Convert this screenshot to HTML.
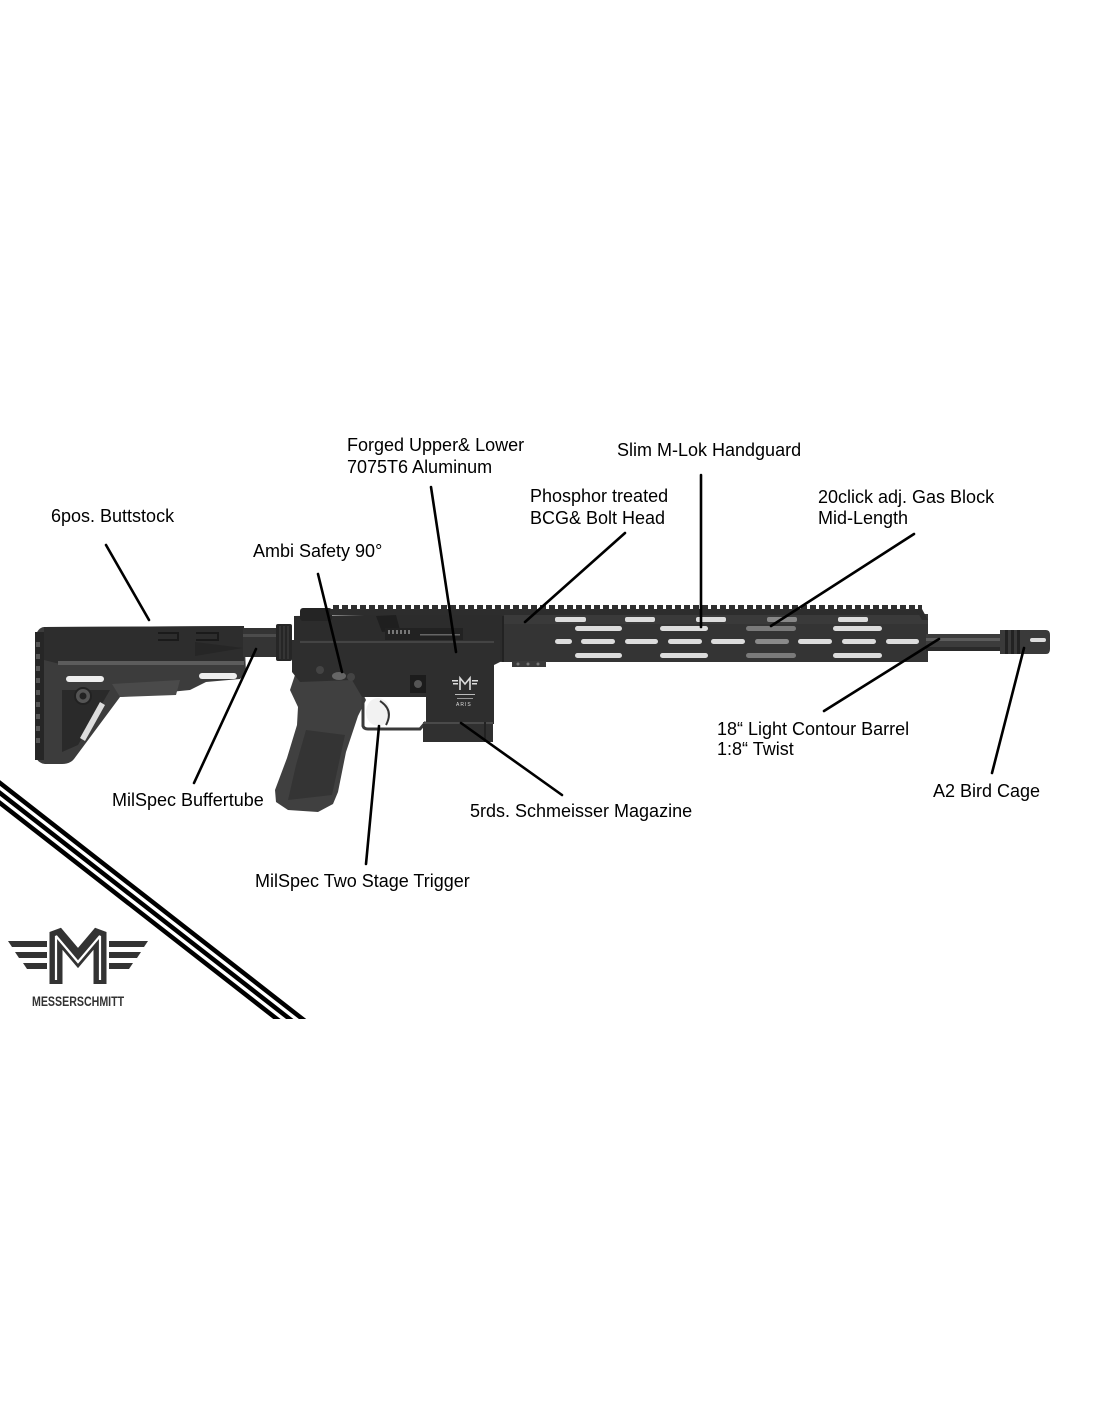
<!DOCTYPE html>
<html>
<head>
<meta charset="utf-8">
<style>
html,body{margin:0;padding:0;background:#fff;}
svg{display:block;}
text{font-family:"Liberation Sans",Arial,sans-serif;}
</style>
</head>
<body>
<svg width="1100" height="1422" viewBox="0 0 1100 1422" xmlns="http://www.w3.org/2000/svg">
<defs>
  <pattern id="teeth" x="0" y="0" width="9" height="6" patternUnits="userSpaceOnUse">
    <rect x="0" y="0" width="6" height="6" fill="#2f2f2f"/>
  </pattern>
  <clipPath id="clipS"><rect x="0" y="700" width="400" height="319"/></clipPath>
</defs>
<rect width="1100" height="1422" fill="#fff"/>

<!-- diagonal stripes -->
<g clip-path="url(#clipS)" stroke="#000" stroke-width="4.5">
  <line x1="-10" y1="775.2" x2="330" y2="1040.4"/>
  <line x1="-10" y1="785.2" x2="330" y2="1050.4"/>
  <line x1="-10" y1="795.2" x2="330" y2="1060.4"/>
</g>

<!-- logo -->
<g fill="#333">
  <polygon points="8,941 47,941 47,947 12,947"/>
  <polygon points="15,952 47,952 47,958 19,958"/>
  <polygon points="23,963 47,963 47,969 27,969"/>
  <polygon points="148,941 109,941 109,947 144,947"/>
  <polygon points="141,952 109,952 109,958 137,958"/>
  <polygon points="133,963 109,963 109,969 129,969"/>
</g>
<path d="M56 984 L56 932 L78 958 L100 932 L100 984" fill="none" stroke="#333" stroke-width="13" stroke-miterlimit="2"/>
<path d="M56 980 L56 936 L78 962 L100 936 L100 980" fill="none" stroke="#fff" stroke-width="2.2" stroke-miterlimit="2"/>
<text x="32" y="1006" font-size="14" font-weight="bold" fill="#333" transform="translate(32 0) scale(0.76 1) translate(-32 0)">MESSERSCHMITT</text>

<!-- ===== RIFLE ===== -->
<!-- stock -->
<path d="M44 627 L244 626 L246 673 L240 679 L206 682 L190 690 L120 697 L74 759 Q70 764 62 764 L45 764 Q36 763 35 753 L35 641 Q36 628 44 627 Z" fill="#3c3c3c"/>
<path d="M44 627 L244 626 L244 662 L60 664 L44 660 Z" fill="#2d2d2d"/>
<rect x="58" y="661" width="186" height="4" fill="#5c5c5c"/>
<path d="M62 690 L110 690 L78 745 L62 752 Z" fill="#2a2a2a"/>
<rect x="35" y="632" width="9" height="128" fill="#262626"/>
<g fill="#555">
  <rect x="36" y="642" width="4" height="5"/><rect x="36" y="654" width="4" height="5"/>
  <rect x="36" y="666" width="4" height="5"/><rect x="36" y="678" width="4" height="5"/>
  <rect x="36" y="690" width="4" height="5"/><rect x="36" y="702" width="4" height="5"/>
  <rect x="36" y="714" width="4" height="5"/><rect x="36" y="726" width="4" height="5"/>
  <rect x="36" y="738" width="4" height="5"/>
</g>
<rect x="66" y="676" width="38" height="6" rx="3" fill="#eee"/>
<rect x="199" y="673" width="38" height="6" rx="3" fill="#eee"/>
<path d="M158 633 L178 633 L178 640 L158 640" fill="none" stroke="#1a1a1a" stroke-width="2"/>
<path d="M196 633 L218 633 L218 640 L196 640" fill="none" stroke="#1a1a1a" stroke-width="2"/>
<path d="M195 642 L243 648 L195 656 Z" fill="#262626"/>
<path d="M80 738 L100 702 L105 705 L85 741 Z" fill="#ddd"/>
<circle cx="83" cy="696" r="8" fill="#555" stroke="#222" stroke-width="2"/>
<circle cx="83" cy="696" r="3.5" fill="#222"/>
<path d="M112 684 L180 680 L176 695 L120 697 Z" fill="#4a4a4a"/>

<!-- buffer tube & castle nut -->
<rect x="243" y="628" width="34" height="29" fill="#343434"/>
<rect x="243" y="634" width="34" height="3" fill="#4c4c4c"/>
<rect x="276" y="624" width="16" height="37" rx="2" fill="#262626"/>
<g stroke="#444" stroke-width="1"><line x1="280" y1="626" x2="280" y2="659"/><line x1="284" y1="626" x2="284" y2="659"/><line x1="288" y1="626" x2="288" y2="659"/></g>

<!-- pistol grip -->
<path d="M296 672 L352 672 L366 700 L358 716 L346 752 L338 792 L333 804 L318 812 L288 810 L276 802 L275 790 L287 758 L297 725 L298 707 L290 690 Z" fill="#404040"/>
<path d="M306 730 L345 735 L332 795 L288 800 L296 765 Z" fill="#343434"/>

<!-- upper receiver -->
<path d="M294 616 L506 613 L508 662 L294 660 Z" fill="#2c2c2c"/>
<rect x="300" y="608" width="32" height="13" rx="3" fill="#242424"/>
<path d="M376 616 L396 615 L400 630 L382 632 Z" fill="#1f1f1f"/>
<rect x="385" y="628" width="78" height="16" fill="#222"/>
<g fill="#777"><rect x="388" y="630" width="2" height="4"/><rect x="392" y="630" width="2" height="4"/><rect x="396" y="630" width="2" height="4"/><rect x="400" y="630" width="2" height="4"/><rect x="404" y="630" width="2" height="4"/><rect x="408" y="630" width="2" height="4"/></g>
<rect x="420" y="634" width="40" height="1.5" fill="#666"/>
<rect x="454" y="646" width="4" height="10" fill="#111"/>
<rect x="502" y="616" width="6" height="46" fill="#222"/>

<!-- lower receiver -->
<path d="M292 640 L500 640 L500 662 L494 665 L494 724 L426 724 L426 697 L362 697 L352 680 L300 682 L292 672 Z" fill="#2e2e2e"/>
<rect x="300" y="641" width="194" height="2" fill="#444"/>
<ellipse cx="339" cy="676" rx="7" ry="4" fill="#666"/>
<circle cx="351" cy="677" r="4" fill="#444"/>
<circle cx="320" cy="670" r="4" fill="#444"/>
<rect x="410" y="675" width="16" height="18" fill="#1c1c1c"/>
<circle cx="418" cy="684" r="4" fill="#555"/>
<!-- receiver logo -->
<g fill="#ddd">
  <rect x="452" y="680" width="6" height="1.5"/><rect x="453" y="683" width="5" height="1.5"/>
  <rect x="472" y="680" width="6" height="1.5"/><rect x="472" y="683" width="5" height="1.5"/>
</g>
<path d="M460 690 L460 678 L465 684 L470 678 L470 690" fill="none" stroke="#ddd" stroke-width="1.6"/>
<rect x="455" y="694" width="20" height="1" fill="#bbb"/>
<rect x="457" y="698" width="16" height="1" fill="#999"/>
<text x="456" y="706" font-size="5" fill="#ddd" letter-spacing="1">ARIS</text>

<!-- trigger guard & trigger -->
<ellipse cx="378" cy="712" rx="12" ry="14" fill="#f2f2f2"/>
<path d="M380 701 Q394 710 386 725" fill="none" stroke="#333" stroke-width="2"/>
<path d="M363 697 L363 726 Q364 729 368 729 L420 729 L426 722" fill="none" stroke="#3a3a3a" stroke-width="3"/>

<!-- magazine -->
<rect x="423" y="722" width="70" height="20" fill="#303030"/>
<rect x="423" y="722" width="70" height="2" fill="#4a4a4a"/>
<rect x="484" y="722" width="2" height="20" fill="#222"/>

<!-- handguard -->
<path d="M504 614 L922 614 L928 620 L928 662 L504 662 Z" fill="#343434"/>
<rect x="504" y="614" width="424" height="10" fill="#3a3a3a"/>
<rect x="330" y="609" width="592" height="6" fill="#2d2d2d"/>
<rect x="330" y="605" width="592" height="5" fill="url(#teeth)"/>
<path d="M916 609 L922 609 L928 620 L922 620 Z" fill="#2d2d2d"/>
<g fill="#dcdcdc">
  <rect x="555" y="617" width="31" height="5" rx="2"/>
  <rect x="625" y="617" width="30" height="5" rx="2"/>
  <rect x="696" y="617" width="30" height="5" rx="2"/>
  <rect x="767" y="617" width="30" height="5" rx="2" fill="#888"/>
  <rect x="838" y="617" width="30" height="5" rx="2"/>

  <rect x="575" y="626" width="47" height="5" rx="2.5"/>
  <rect x="660" y="626" width="48" height="5" rx="2.5"/>
  <rect x="746" y="626" width="50" height="5" rx="2.5" fill="#7a7a7a"/>
  <rect x="833" y="626" width="49" height="5" rx="2.5"/>

  <rect x="555" y="639" width="17" height="5" rx="2.5"/>
  <rect x="581" y="639" width="34" height="5" rx="2.5"/>
  <rect x="625" y="639" width="33" height="5" rx="2.5"/>
  <rect x="668" y="639" width="34" height="5" rx="2.5"/>
  <rect x="711" y="639" width="34" height="5" rx="2.5"/>
  <rect x="755" y="639" width="34" height="5" rx="2.5" fill="#8a8a8a"/>
  <rect x="798" y="639" width="34" height="5" rx="2.5"/>
  <rect x="842" y="639" width="34" height="5" rx="2.5"/>
  <rect x="886" y="639" width="33" height="5" rx="2.5"/>

  <rect x="575" y="653" width="47" height="5" rx="2.5"/>
  <rect x="660" y="653" width="48" height="5" rx="2.5"/>
  <rect x="746" y="653" width="50" height="5" rx="2.5" fill="#7a7a7a"/>
  <rect x="833" y="653" width="49" height="5" rx="2.5"/>
</g>
<rect x="512" y="661" width="34" height="6" fill="#3a3a3a"/>
<g fill="#777"><circle cx="518" cy="664" r="1.5"/><circle cx="528" cy="664" r="1.5"/><circle cx="538" cy="664" r="1.5"/></g>

<!-- barrel -->
<rect x="926" y="634" width="76" height="17" fill="#3c3c3c"/>
<rect x="926" y="638" width="76" height="3" fill="#5c5c5c"/>
<rect x="926" y="647" width="76" height="4" fill="#2a2a2a"/>

<!-- flash hider -->
<path d="M1000 630 L1046 630 Q1050 630 1050 635 L1050 649 Q1050 654 1046 654 L1000 654 Z" fill="#3a3a3a"/>
<g fill="#222"><rect x="1005" y="630" width="3" height="24"/><rect x="1011" y="630" width="3" height="24"/><rect x="1017" y="630" width="3" height="24"/></g>
<rect x="1030" y="638" width="16" height="4" rx="2" fill="#ddd"/>

<!-- connector lines -->
<g stroke="#000" stroke-width="2.6" stroke-linecap="round">
  <line x1="106" y1="545" x2="149" y2="620"/>
  <line x1="318" y1="574" x2="342" y2="672"/>
  <line x1="431" y1="487" x2="456" y2="652"/>
  <line x1="625" y1="533" x2="525" y2="622"/>
  <line x1="701" y1="475" x2="701" y2="627"/>
  <line x1="914" y1="534" x2="771" y2="626"/>
  <line x1="824" y1="711" x2="939" y2="639"/>
  <line x1="992" y1="773" x2="1024" y2="648"/>
  <line x1="194" y1="783" x2="256" y2="649"/>
  <line x1="366" y1="864" x2="379" y2="726"/>
  <line x1="562" y1="795" x2="461" y2="723"/>
</g>

<!-- labels -->
<g font-size="18" fill="#000">
  <text x="51" y="522">6pos. Buttstock</text>
  <text x="253" y="557">Ambi Safety 90°</text>
  <text x="347" y="451">Forged Upper&amp; Lower</text>
  <text x="347" y="473">7075T6 Aluminum</text>
  <text x="530" y="502">Phosphor treated</text>
  <text x="530" y="524">BCG&amp; Bolt Head</text>
  <text x="617" y="456">Slim M-Lok Handguard</text>
  <text x="818" y="503">20click adj. Gas Block</text>
  <text x="818" y="524">Mid-Length</text>
  <text x="717" y="735">18“ Light Contour Barrel</text>
  <text x="717" y="755">1:8“ Twist</text>
  <text x="933" y="797">A2 Bird Cage</text>
  <text x="112" y="806">MilSpec Buffertube</text>
  <text x="470" y="817">5rds. Schmeisser Magazine</text>
  <text x="255" y="887">MilSpec Two Stage Trigger</text>
</g>
</svg>
</body>
</html>
